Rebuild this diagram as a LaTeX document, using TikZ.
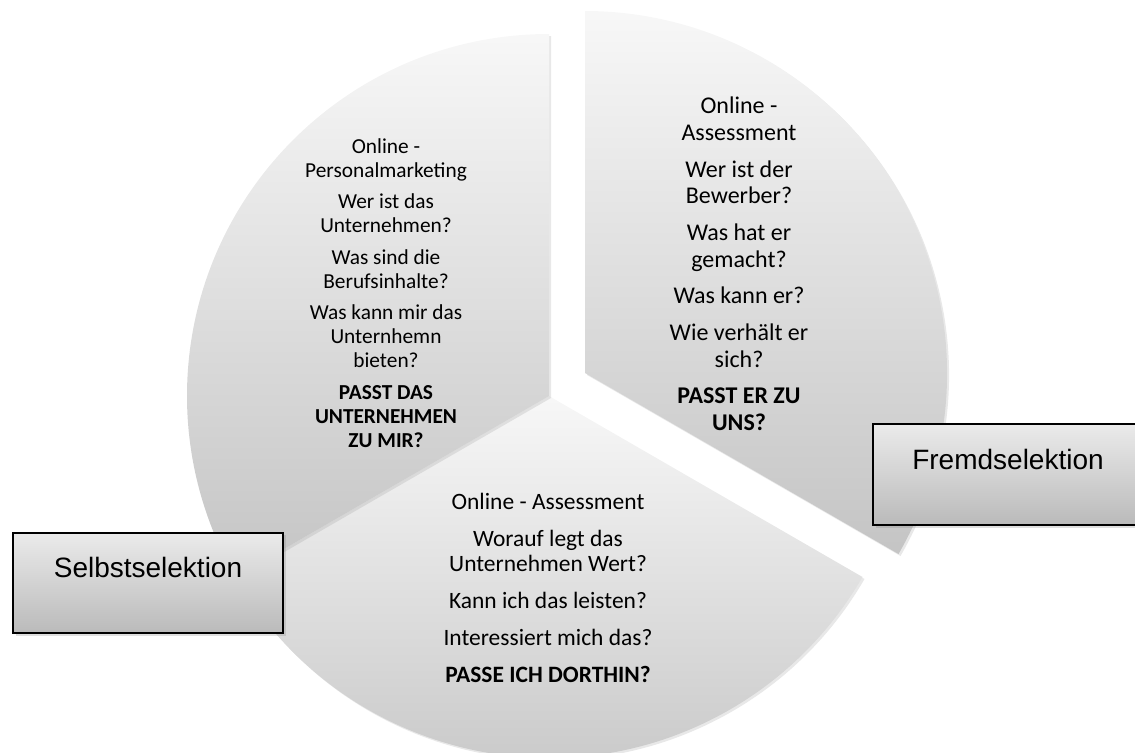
\documentclass[tikz,border=0pt]{standalone}
\usepackage{fontspec}
\setmainfont{Carlito}
\newfontfamily\arialfont{Liberation Sans}
\usetikzlibrary{shadows}
\tikzset{
	pie_sek/.style = {top color=black!3, bottom color=black!23, draw=none,
		drop shadow={opacity=0.18, shadow xshift=1.5pt, shadow yshift=-1.5pt}},% kreissektor
	pie_txt/.style = {align=center, inner sep=0pt, text=black},% text im sektor
	sel_box/.style = {rectangle, draw=black, line width=1.5pt,
		top color=black!8, bottom color=black!27,
		minimum width=202.5pt, minimum height=75.5pt,
		text height=15pt, text depth=23pt,
		font=\arialfont\fontsize{21}{25}\selectfont,
		drop shadow={opacity=0.25, shadow xshift=2pt, shadow yshift=-2pt}}% auswahl kasten
}

\begin{document}
\begin{tikzpicture}[x=0.75pt, y=0.75pt]
	\useasboundingbox (0,0) rectangle (1135,-753);
	% die drei sektoren
	\coordinate (mitte) at (549,-396);
	\coordinate (mitte_r) at (585,-373);
	\path[pie_sek] (mitte) -- ++(210:362) arc[start angle=210, end angle=330, radius=362] -- cycle;
	\path[pie_sek] (mitte) -- ++(90:362) arc[start angle=90, end angle=210, radius=362] -- cycle;
	\path[pie_sek] (mitte_r) -- ++(-30:362) arc[start angle=-30, end angle=90, radius=362] -- cycle;
	% texte
	\node[pie_txt, font=\fontsize{16}{18}\selectfont] (txt_links) at (386,-293)
		{Online -\\ Personalmarketing\\[5.6pt]
		 Wer ist das\\ Unternehmen?\\[5.6pt]
		 Was sind die\\ Berufsinhalte?\\[5.6pt]
		 Was kann mir das\\ Unternhemn\\ bieten?\\[5.6pt]
		 \textbf{PASST DAS}\\ \textbf{UNTERNEHMEN}\\ \textbf{ZU MIR?}};
	\node[pie_txt, font=\fontsize{18}{20}\selectfont] (txt_rechts) at (739,-264)
		{Online -\\ Assessment\\[7.5pt]
		 Wer ist der\\ Bewerber?\\[7.5pt]
		 Was hat er\\ gemacht?\\[7.5pt]
		 Was kann er?\\[7.5pt]
		 Wie verhält er\\ sich?\\[7.5pt]
		 \textbf{PASST ER ZU}\\ \textbf{UNS?}};
	\node[pie_txt, font=\fontsize{17.6}{18.75}\selectfont] (txt_unten) at (548,-588)
		{Online - Assessment\\[9pt]
		 Worauf legt das\\ Unternehmen Wert?\\[9pt]
		 Kann ich das leisten?\\[9pt]
		 Interessiert mich das?\\[9pt]
		 \textbf{PASSE ICH DORTHIN?}};
	% kaesten
	\node[sel_box] (selbst) at (148,-583) {Selbstselektion};
	\node[sel_box] (fremd) at (1008,-474.5) {Fremdselektion};
\end{tikzpicture}
\end{document}
